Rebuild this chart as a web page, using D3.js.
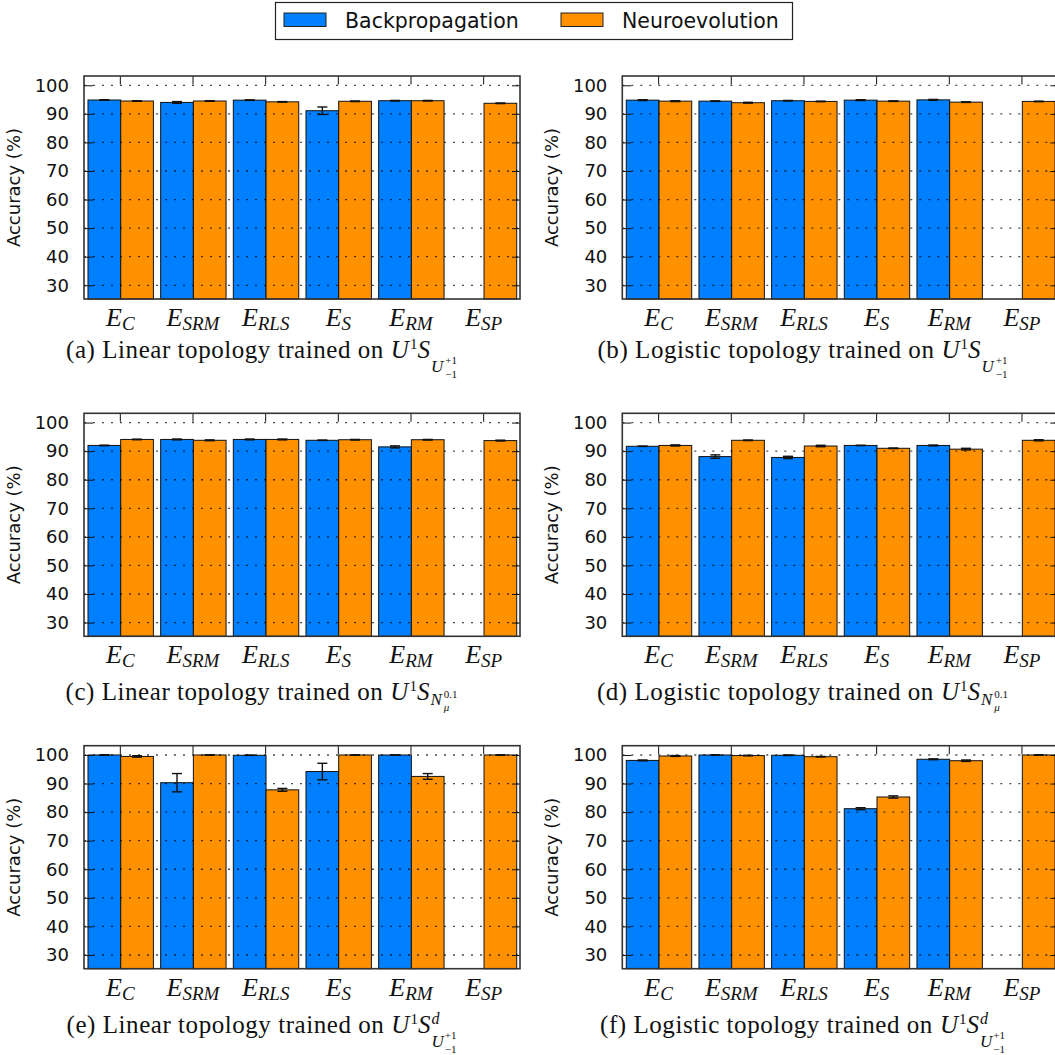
<!DOCTYPE html>
<html>
<head>
<meta charset="utf-8">
<script src="https://cdn.jsdelivr.net/npm/d3@7"></script>
<style>
  body { margin: 0; background: #fff; }
</style>
</head>
<body>
<div id="chart"></div>
<script>
// categories (subscripts of E) and series
var categories = ["C", "SRM", "RLS", "S", "RM", "SP"];
var seriesNames = ["Backpropagation", "Neuroevolution"];
var yTicks = [30, 40, 50, 60, 70, 80, 90, 100];

// (a) linear, U(-1,+1)
var aBP = [94.85, 94.0, 94.8, 91.1, 94.6, null];
var aNE = [94.5, 94.5, 94.2, 94.4, 94.6, 93.7];
var aBPerr = [0.1, 0.3, 0.1, 1.3, 0.1, null];
var aNEerr = [0.1, 0.1, 0.1, 0.1, 0.1, 0.1];
// (b) logistic, U(-1,+1)
var bBP = [94.8, 94.45, 94.6, 94.8, 94.9, null];
var bNE = [94.45, 93.9, 94.35, 94.45, 94.1, 94.35];
var bBPerr = [0.15, 0.1, 0.1, 0.15, 0.15, null];
var bNEerr = [0.15, 0.15, 0.1, 0.1, 0.1, 0.1];
// (c) linear, N(mu, 0.1)
var cBP = [92.0, 94.1, 94.1, 93.8, 91.5, null];
var cNE = [94.1, 93.8, 94.1, 94.0, 94.0, 93.7];
var cBPerr = [0.1, 0.15, 0.15, 0.05, 0.35, null];
var cNEerr = [0.1, 0.15, 0.15, 0.1, 0.1, 0.15];
// (d) logistic, N(mu, 0.1)
var dBP = [91.7, 88.1, 87.8, 92.0, 92.0, null];
var dNE = [92.0, 93.8, 91.8, 91.0, 90.7, 93.8];
var dBPerr = [0.05, 0.6, 0.4, 0.05, 0.15, null];
var dNEerr = [0.2, 0.1, 0.25, 0.1, 0.3, 0.2];
// (e) linear, discrete U(-1,+1)
var eBP = [100, 90.3, 99.9, 94.2, 100, null];
var eNE = [99.5, 100, 87.8, 100, 92.5, 100];
var eBPerr = [0.05, 3.2, 0.05, 2.9, 0.02, null];
var eNEerr = [0.25, 0.02, 0.5, 0.05, 1.0, 0.02];
// (f) logistic, discrete U(-1,+1)
var fBP = [98.1, 100, 99.9, 81.2, 98.5, null];
var fNE = [99.65, 99.8, 99.4, 85.3, 98.0, 100];
var fBPerr = [0.15, 0.02, 0.1, 0.35, 0.15, null];
var fNEerr = [0.15, 0.1, 0.1, 0.4, 0.25, 0.05];

var colors = ["#0080ff", "#ff9100"];
var serif = "'Liberation Serif', 'DejaVu Serif', serif";
var sans = "'DejaVu Sans', sans-serif";

var W = 1055, H = 1055;
var pw = 436, ph = 223;
var colX = [84, 622.3];
var rowY = [76, 413.3, 745.7];
var capY = [358, 700, 1033];
var capX = [262, 803];

var svg = d3.select("#chart").append("svg")
  .attr("width", W).attr("height", H)
  .style("font-family", sans);

// ---- legend ----
var leg = svg.append("g");
leg.append("rect").attr("x", 275.5).attr("y", 2.5).attr("width", 517).attr("height", 37)
  .attr("fill", "#fff").attr("stroke", "#222").attr("stroke-width", 1.2);
var legX = [284, 561];
seriesNames.forEach(function(name, i) {
  leg.append("rect").attr("x", legX[i]).attr("y", 13).attr("width", 42).attr("height", 13.5)
    .attr("fill", colors[i]).attr("stroke", "#222").attr("stroke-width", 1);
  leg.append("text").attr("x", legX[i] + 61).attr("y", 27.5)
    .attr("font-size", "20.5px").attr("fill", "#111").text(name);
});

// caption pieces: [text, size, italic, baselineShift, stack, gapAfter]
function capPieces(letter, topo, kind) {
  var p = [["(" + letter + ") " + topo + " topology trained on", 25, false, 0, null, 7],
           ["U", 25, true, 0, null, 1], ["1", 15, false, -9, null, 0], ["S", 25, true, 0, null, 1]];
  var sub = [
    ["U", 17, true, 14, null, 2],
    ["+1", 11, false, 6, "a"],
    ["\u22121", 11, false, 20, "b"]
  ];
  if (kind == "U") return p.concat(sub);
  if (kind == "N") return p.concat([
    ["N", 17, true, 5, null, 2],
    ["0.1", 11, false, -2, "a"],
    ["\u03bc", 11, true, 11, "b"]
  ]);
  // discrete: S^d_{U^{+1}_{-1}}
  return p.concat([
    ["d", 16, true, -9, "a"],
    ["U", 17, true, 14, "b"]
  ]).concat(sub.slice(1));
}

function drawCaption(cx, cy, pieces) {
  var g = svg.append("g");
  var x = 0, stackStart = null, stackW = 0;
  pieces.forEach(function(pc) {
    var t = g.append("text")
      .attr("y", pc[3])
      .attr("font-family", serif)
      .attr("font-size", pc[1] + "px")
      .attr("font-style", pc[2] ? "italic" : "normal")
      .attr("fill", "#111")
      .text(pc[0]);
    if (pc[1] >= 25 && !pc[2]) t.attr("letter-spacing", "0.55px");
    if (pc[4] == "a") {
      stackStart = x; t.attr("x", x);
      stackW = t.node().getComputedTextLength();
    } else if (pc[4] == "b") {
      t.attr("x", stackStart);
      x = stackStart + Math.max(stackW, t.node().getComputedTextLength()) + 1;
    } else {
      t.attr("x", x);
      x += t.node().getComputedTextLength() + (pc[5] || 0);
    }
  });
  g.attr("transform", "translate(" + (cx - x / 2) + "," + cy + ")");
}

var panels = [
  { bp: aBP, ne: aNE, bpe: aBPerr, nee: aNEerr, col: 0, row: 0, letter: "a", topo: "Linear", kind: "U" },
  { bp: bBP, ne: bNE, bpe: bBPerr, nee: bNEerr, col: 1, row: 0, letter: "b", topo: "Logistic", kind: "U" },
  { bp: cBP, ne: cNE, bpe: cBPerr, nee: cNEerr, col: 0, row: 1, letter: "c", topo: "Linear", kind: "N" },
  { bp: dBP, ne: dNE, bpe: dBPerr, nee: dNEerr, col: 1, row: 1, letter: "d", topo: "Logistic", kind: "N" },
  { bp: eBP, ne: eNE, bpe: eBPerr, nee: eNEerr, col: 0, row: 2, letter: "e", topo: "Linear", kind: "D" },
  { bp: fBP, ne: fNE, bpe: fBPerr, nee: fNEerr, col: 1, row: 2, letter: "f", topo: "Logistic", kind: "D" }
];

panels.forEach(function(p) {
  var x0 = colX[p.col], y0 = rowY[p.row];
  var g = svg.append("g").attr("transform", "translate(" + x0 + "," + y0 + ")");

  var x = d3.scaleBand().domain(categories).range([0, pw]).paddingInner(0).paddingOuter(0);
  var y = d3.scaleLinear().domain([25.2, 103.25]).range([ph, 0]);
  var bw = x.bandwidth() * 0.45, off = x.bandwidth() * 0.055;

  // bars
  [p.bp, p.ne].forEach(function(vals, s) {
    var errs = s == 0 ? p.bpe : p.nee;
    var rows = categories.map(function(c, i) { return { c: c, v: vals[i], e: errs[i] }; })
      .filter(function(d) { return d.v != null; });
    g.selectAll(".bar" + s).data(rows).enter().append("rect")
      .attr("x", function(d) { return x(d.c) + off + s * bw; })
      .attr("y", function(d) { return y(d.v); })
      .attr("width", bw)
      .attr("height", function(d) { return ph - y(d.v); })
      .attr("fill", colors[s])
      .attr("stroke", "#111").attr("stroke-width", 1);
    // error bars
    rows.forEach(function(d) {
      var cx = x(d.c) + off + s * bw + bw / 2;
      var eg = g.append("g").attr("stroke", "#111").attr("stroke-width", 1.4);
      eg.append("line").attr("x1", cx).attr("x2", cx).attr("y1", y(d.v + d.e)).attr("y2", y(d.v - d.e));
      eg.append("line").attr("x1", cx - 5).attr("x2", cx + 5).attr("y1", y(d.v + d.e)).attr("y2", y(d.v + d.e));
      eg.append("line").attr("x1", cx - 5).attr("x2", cx + 5).attr("y1", y(d.v - d.e)).attr("y2", y(d.v - d.e));
    });
  });

  // dotted grid drawn over the bars
  g.selectAll(".grid").data(yTicks).enter().append("line")
    .attr("x1", 0).attr("x2", pw)
    .attr("y1", function(d) { return y(d); }).attr("y2", function(d) { return y(d); })
    .attr("stroke", "#000").attr("stroke-opacity", 0.7)
    .attr("stroke-width", 1.3).attr("stroke-dasharray", "2,7");

  // ticks on left / right (inward) and top
  var yAxL = d3.axisLeft(y).tickValues(yTicks).tickSize(-9).tickPadding(15);
  var gl = g.append("g").call(yAxL);
  gl.select(".domain").remove();
  gl.selectAll("text").attr("font-size", "18px").attr("font-family", sans).attr("fill", "#111");
  gl.selectAll("line").attr("stroke", "#111");
  var gr = g.append("g").attr("transform", "translate(" + pw + ",0)")
    .call(d3.axisRight(y).tickValues(yTicks).tickSize(-8).tickFormat(""));
  gr.select(".domain").remove();
  gr.selectAll("line").attr("stroke", "#111");
  var gt = g.append("g").call(d3.axisTop(x).tickSize(-8.5).tickFormat(""));
  gt.select(".domain").remove();
  gt.selectAll("line").attr("stroke", "#111");

  // frame
  g.append("rect").attr("x", 0).attr("y", 0).attr("width", pw).attr("height", ph)
    .attr("fill", "none").attr("stroke", "#333").attr("stroke-width", 1.6);

  // x labels E_sub
  categories.forEach(function(c) {
    var t = g.append("text")
      .attr("x", x(c) + x.bandwidth() / 2)
      .attr("y", ph + 27)
      .attr("text-anchor", "middle")
      .attr("font-family", serif).attr("font-style", "italic")
      .attr("fill", "#111");
    t.append("tspan").attr("font-size", "26px").text("E");
    t.append("tspan").attr("font-size", "19px").attr("dy", 4).text(c);
  });

  // y label
  g.append("text")
    .attr("transform", "translate(" + (-64) + "," + (ph / 2) + ") rotate(-90)")
    .attr("text-anchor", "middle")
    .attr("font-size", "18px").attr("fill", "#111")
    .text("Accuracy (%)");

  drawCaption(capX[p.col], capY[p.row], capPieces(p.letter, p.topo, p.kind));
});
</script>
</body>
</html>
